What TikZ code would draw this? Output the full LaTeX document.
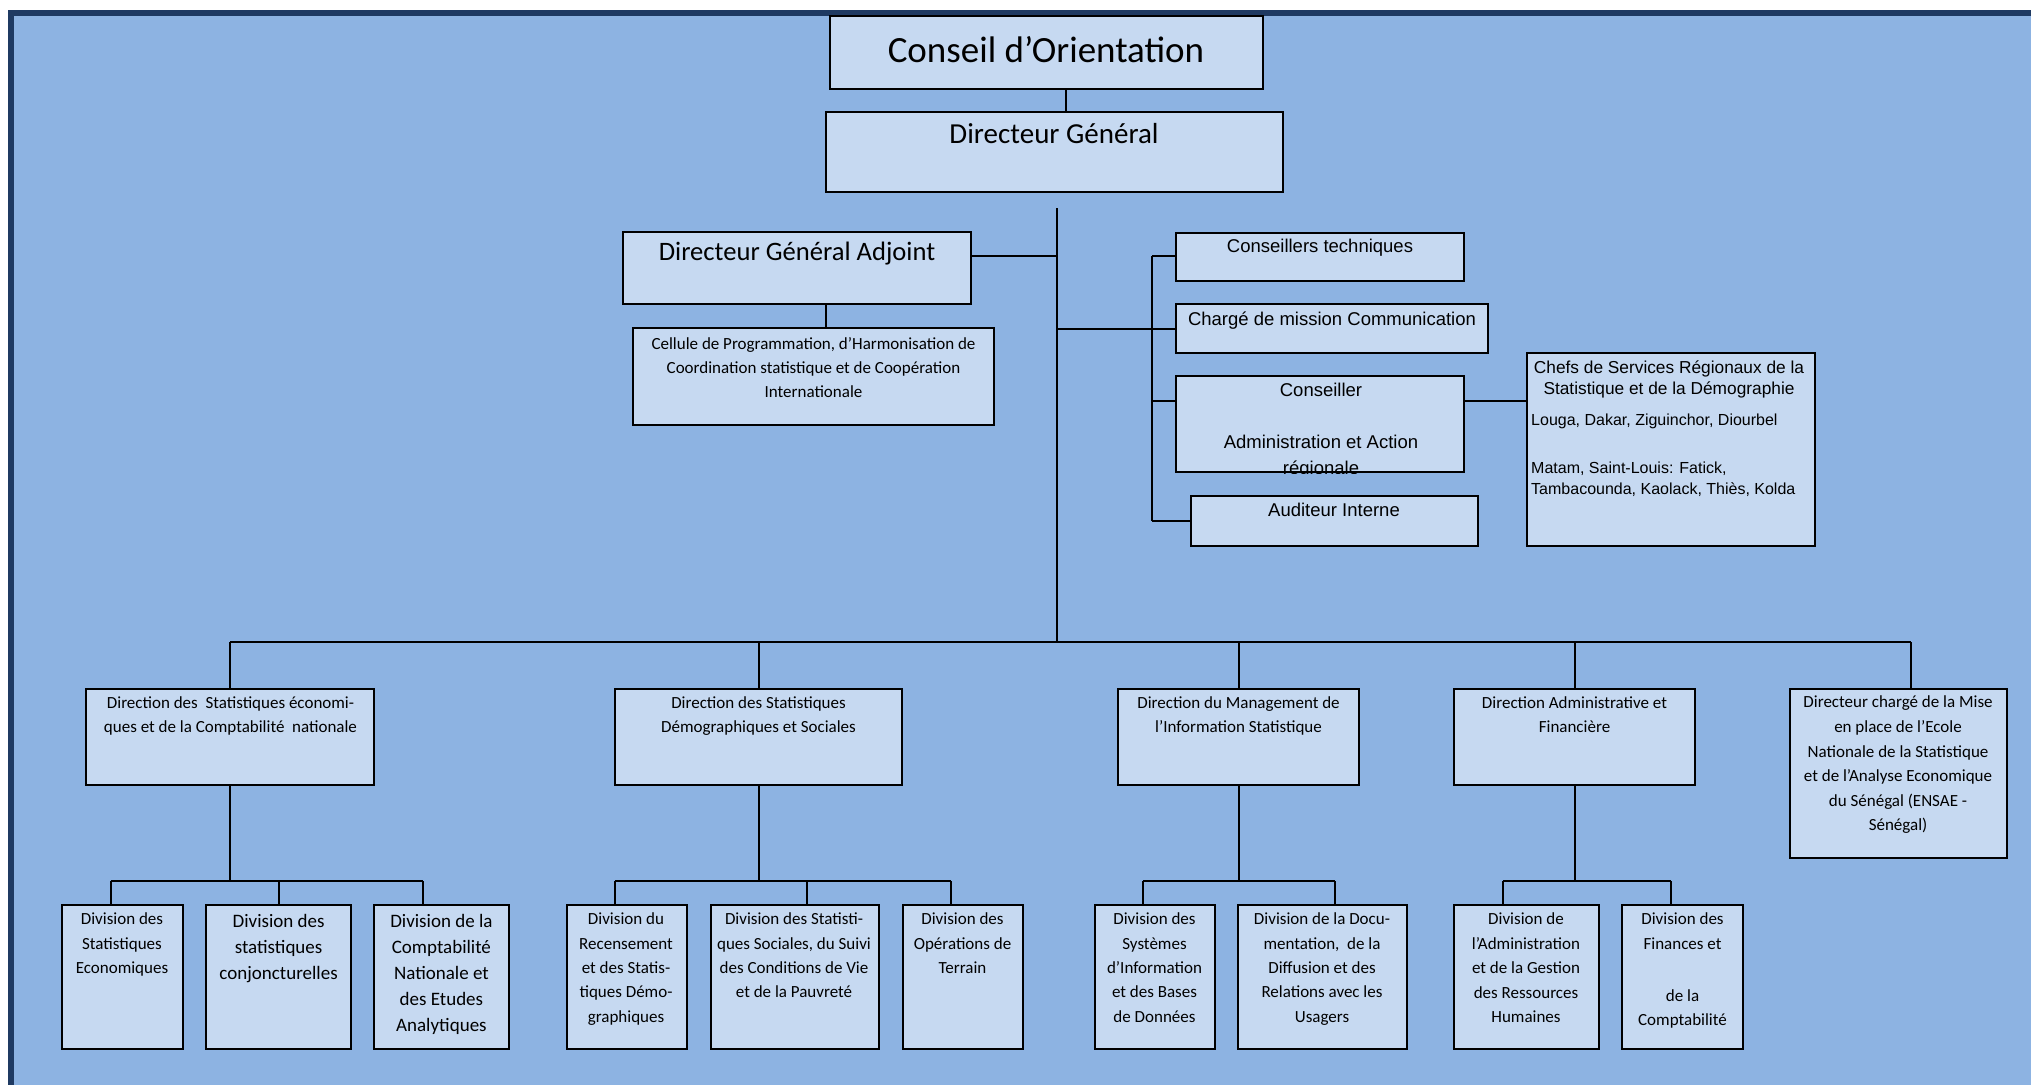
\documentclass[tikz,border=0pt]{standalone}
\usepackage{fontspec}
\setmainfont{Carlito}
\newfontfamily\arialf{Liberation Sans}
\definecolor{bgblue}{HTML}{8DB3E2}
\definecolor{boxfill}{HTML}{C6D9F1}
\definecolor{frame}{HTML}{1F3A62}
\tikzset{
  box/.style={draw=black, line width=2.2pt, fill=boxfill, inner sep=0pt},
  ln/.style={draw=black, line width=2pt},
  tx/.style={anchor=north, inner sep=0pt, align=center},
  fs/.style 2 args={font=\fontsize{#1}{#2}\selectfont},
  fa/.style 2 args={font=\arialf\fontsize{#1}{#2}\selectfont},
}
\begin{document}
\begin{tikzpicture}[x=1pt,y=-1pt]
\useasboundingbox (0,0) rectangle (2031,1085);
% background and frame
\fill[bgblue] (8,10) rectangle (2031,1085);
\fill[frame] (8,10) rectangle (2031,16);
\fill[frame] (8,10) rectangle (14,1085);

% top boxes
\node[box, minimum width=433, minimum height=73] (co) at (1046.5,52.5) {};
\node[box, minimum width=457, minimum height=80] (dg) at (1054.5,152) {};
\node[box, minimum width=348, minimum height=72] (dga) at (797,268) {};
\node[box, minimum width=361, minimum height=97] (cel) at (813.5,376.5) {};
\node[box, minimum width=288, minimum height=48] (ct) at (1320,257) {};
\node[box, minimum width=312, minimum height=49] (cm) at (1332,328.5) {};
\node[box, minimum width=288, minimum height=96] (ca) at (1320,424) {};
\node[box, minimum width=287, minimum height=50] (ai) at (1334.5,521) {};
\node[box, minimum width=288, minimum height=193] (cs) at (1671,449.5) {};

% directions
\node[box, minimum width=288, minimum height=96] (d1) at (230,737) {};
\node[box, minimum width=287, minimum height=96] (d2) at (758.5,737) {};
\node[box, minimum width=241, minimum height=96] (d3) at (1238.5,737) {};
\node[box, minimum width=241, minimum height=96] (d4) at (1574.5,737) {};
\node[box, minimum width=217, minimum height=169] (d5) at (1898.5,773.5) {};

% divisions
\node[box, minimum width=121, minimum height=144] (b11) at (122.5,977) {};
\node[box, minimum width=145, minimum height=144] (b12) at (278.5,977) {};
\node[box, minimum width=135, minimum height=144] (b13) at (441.5,977) {};
\node[box, minimum width=120, minimum height=144] (b21) at (627,977) {};
\node[box, minimum width=168, minimum height=144] (b22) at (795,977) {};
\node[box, minimum width=120, minimum height=144] (b23) at (963,977) {};
\node[box, minimum width=120, minimum height=144] (b31) at (1155,977) {};
\node[box, minimum width=169, minimum height=144] (b32) at (1322.5,977) {};
\node[box, minimum width=145, minimum height=144] (b41) at (1526.5,977) {};
\node[box, minimum width=121, minimum height=144] (b42) at (1682.5,977) {};

% connector coordinates
\coordinate (coX) at (1066,0);
\coordinate (tTop) at (1057,208);
\coordinate (tBot) at (1057,642);
\coordinate (dgaY) at (0,256);
\coordinate (celX) at (826,0);
\coordinate (rc) at (1152,256);
\coordinate (rcb) at (1152,521);
\coordinate (caY) at (0,401);
\coordinate (d5X) at (1911,0);

\draw[ln] (co.south -| coX) -- (dg.north -| coX);
\draw[ln] (tTop) -- (tBot);
\draw[ln] (dga.east |- dgaY) -- (tTop |- dgaY);
\draw[ln] (dga.south -| celX) -- (cel.north -| celX);
\draw[ln] (rc) -- (rcb);
\draw[ln] (rc) -- (ct.west |- rc);
\draw[ln] (tTop |- cm.west) -- (cm.west);
\draw[ln] (rc |- caY) -- (ca.west |- caY);
\draw[ln] (ca.east |- caY) -- (cs.west |- caY);
\draw[ln] (rcb) -- (ai.west |- rcb);

% main bus
\draw[ln] (d1.north |- tBot) -- (d5X |- tBot);
\draw[ln] (d1.north |- tBot) -- (d1.north);
\draw[ln] (d2.north |- tBot) -- (d2.north);
\draw[ln] (d3.north |- tBot) -- (d3.north);
\draw[ln] (d4.north |- tBot) -- (d4.north);
\draw[ln] (d5X |- tBot) -- (d5.north -| d5X);

% sub buses
\coordinate (s11) at (110.5,881);
\coordinate (s12) at (278.6,881);
\coordinate (s13) at (422.6,881);
\coordinate (s21) at (615,881);
\coordinate (s22) at (807,881);
\coordinate (s23) at (951,881);
\coordinate (s31) at (1143,881);
\coordinate (s32) at (1335,881);
\coordinate (s41) at (1503,881);
\coordinate (s42) at (1671,881);

\draw[ln] (d1.south) -- (d1.south |- s11);
\draw[ln] (s11) -- (s13);
\draw[ln] (s11) -- (b11.north -| s11);
\draw[ln] (s12) -- (b12.north -| s12);
\draw[ln] (s13) -- (b13.north -| s13);

\draw[ln] (d2.south) -- (d2.south |- s21);
\draw[ln] (s21) -- (s23);
\draw[ln] (s21) -- (b21.north -| s21);
\draw[ln] (s22) -- (b22.north -| s22);
\draw[ln] (s23) -- (b23.north -| s23);

\draw[ln] (d3.south) -- (d3.south |- s31);
\draw[ln] (s31) -- (s32);
\draw[ln] (s31) -- (b31.north -| s31);
\draw[ln] (s32) -- (b32.north -| s32);

\draw[ln] (d4.south) -- (d4.south |- s41);
\draw[ln] (s41) -- (s42);
\draw[ln] (s41) -- (b41.north -| s41);
\draw[ln] (s42) -- (b42.north -| s42);

% texts
\node[tx, fs={37}{44}] (co-t) at (1046,36.5) {Conseil d’Orientation};
\node[tx, fs={29}{35}] (dg-t) at (1054,122.8) {Directeur Général};
\node[tx, fs={26.6}{32}] (dga-t) at (797,241.8) {Directeur Général Adjoint};
\node[tx, fs={17}{24}] (cel-t) at (813.5,336.9) {Cellule de Programmation, d’Harmonisation de\\Coordination statistique et de Coopération\\Internationale};
\node[tx, fa={18.5}{22}] (ct-t) at (1320,239.2) {Conseillers techniques};
\node[tx, fa={18.5}{22}] (cm-t) at (1332,311.2) {Chargé de mission Communication};
\begin{scope}
\clip (ca.south west) rectangle (ca.north east);
\node[tx, fa={18.5}{26}] (ca-t) at (1321,383.2) {Conseiller\\[26pt]Administration et Action\\régionale};
\end{scope}
\node[tx, fa={18.5}{22}] (ai-t) at (1334,503.2) {Auditeur Interne};
\node[tx, fa={17.3}{21}] (cs-t) at (1669,360.7) {Chefs de Services Régionaux de la\\Statistique et de la Démographie};
\node[tx, anchor=north west, align=left, fa={16}{21}] (cs-l1) at (1531,413.3) {Louga, Dakar, Ziguinchor, Diourbel};
\node[tx, anchor=north west, align=left, fa={16}{21}] (cs-l2) at (1531,461.3) {Matam, Saint-Louis: Fatick,\\Tambacounda, Kaolack, Thiès, Kolda};

\node[tx, fs={17}{24}] (d1-t) at (230.5,696.9) {Direction des\ \ Statistiques économi-\\ques et de la Comptabilité\ \ nationale};
\node[tx, fs={17}{24}] (d2-t) at (758.5,696.9) {Direction des Statistiques\\Démographiques et Sociales};
\node[tx, fs={17}{24}] (d3-t) at (1238.5,696.9) {Direction du Management de\\l’Information Statistique};
\node[tx, fs={17}{24}] (d4-t) at (1574.5,696.9) {Direction Administrative et\\Financière};
\node[tx, fs={17}{24.6}] (d5-t) at (1898,695.9) {Directeur chargé de la Mise\\en place de l’Ecole\\Nationale de la Statistique\\et de l’Analyse Economique\\du Sénégal (ENSAE -\\Sénégal)};

\node[tx, fs={17}{24.5}] (b11-t) at (122,912.9) {Division des\\Statistiques\\Economiques};
\node[tx, fs={19}{26}] (b12-t) at (278.6,914) {Division des\\statistiques\\conjoncturelles};
\node[tx, fs={19}{26}] (b13-t) at (441.4,914) {Division de la\\Comptabilité\\Nationale et\\des Etudes\\Analytiques};
\node[tx, fs={17}{24.3}] (b21-t) at (626,912.9) {Division du\\Recensement\\et des Statis-\\tiques Démo-\\graphiques};
\node[tx, fs={17}{24.3}] (b22-t) at (794,912.9) {Division des Statisti-\\ques Sociales, du Suivi\\des Conditions de Vie\\et de la Pauvreté};
\node[tx, fs={17}{24.3}] (b23-t) at (962.5,912.9) {Division des\\Opérations de\\Terrain};
\node[tx, fs={17}{24.3}] (b31-t) at (1154.5,912.9) {Division des\\Systèmes\\d’Information\\et des Bases\\de Données};
\node[tx, fs={17}{24.3}] (b32-t) at (1322,912.9) {Division de la Docu-\\mentation,\ \ de la\\Diffusion et des\\Relations avec les\\Usagers};
\node[tx, fs={17}{24.5}] (b41-t) at (1526,912.9) {Division de\\l’Administration\\et de la Gestion\\des Ressources\\Humaines};
\node[tx, fs={17}{24.3}] (b42-t) at (1682.5,912.9) {Division des\\Finances et\\[28pt]de la\\Comptabilité};
\end{tikzpicture}
\end{document}
